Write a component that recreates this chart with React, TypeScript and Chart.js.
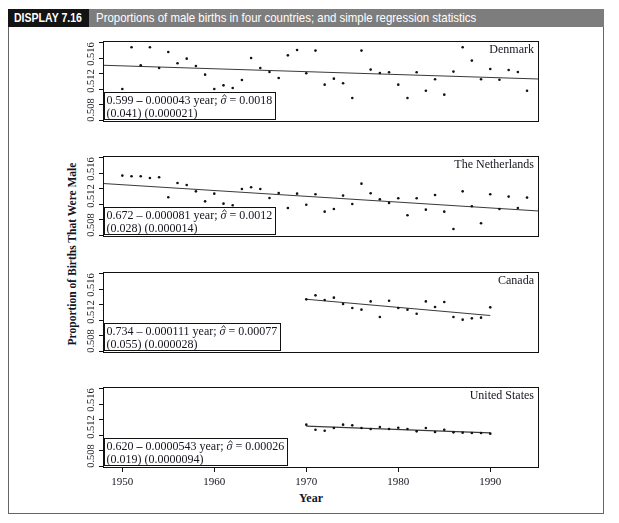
import React, { useEffect, useRef } from 'react';
import { Chart, registerables } from 'chart.js';

Chart.register(...registerables);

// ---------- data ----------
const YEARS_LONG = [
  1950, 1951, 1952, 1953, 1954, 1955, 1956, 1957, 1958, 1959,
  1960, 1961, 1962, 1963, 1964, 1965, 1966, 1967, 1968, 1969,
  1970, 1971, 1972, 1973, 1974, 1975, 1976, 1977, 1978, 1979,
  1980, 1981, 1982, 1983, 1984, 1985, 1986, 1987, 1988, 1989,
  1990, 1991, 1992, 1993, 1994,
];
const YEARS_SHORT = [
  1970, 1971, 1972, 1973, 1974, 1975, 1976, 1977, 1978, 1979,
  1980, 1981, 1982, 1983, 1984, 1985, 1986, 1987, 1988, 1989, 1990,
];

const DENMARK = [
  0.51200, 0.51738, 0.51505, 0.51738, 0.51471, 0.51678, 0.51531, 0.51591, 0.51497, 0.51385,
  0.51200, 0.51247, 0.51213, 0.51316, 0.51600, 0.51471, 0.51419, 0.51342, 0.51634, 0.51703,
  0.51402, 0.51695, 0.51256, 0.51333, 0.51273, 0.51084, 0.51695, 0.51450, 0.51407, 0.51415,
  0.51256, 0.51084, 0.51415, 0.51178, 0.51325, 0.51127, 0.51424, 0.51738, 0.51566, 0.51325,
  0.51458, 0.51320, 0.51445, 0.51419, 0.51178,
];
const NETHERLANDS = [
  0.51566, 0.51557, 0.51557, 0.51536, 0.51544, 0.51286, 0.51471, 0.51445, 0.51363, 0.51234,
  0.51333, 0.51204, 0.51183, 0.51394, 0.51415, 0.51394, 0.51277, 0.51342, 0.51148, 0.51333,
  0.51191, 0.51325, 0.51101, 0.51135, 0.51308, 0.51200, 0.51462, 0.51338, 0.51260, 0.51213,
  0.51273, 0.51054, 0.51273, 0.51127, 0.51316, 0.51101, 0.50877, 0.51363, 0.51170, 0.50951,
  0.51325, 0.51135, 0.51295, 0.51148, 0.51282,
];
const CANADA = [
  0.51466, 0.51518, 0.51458, 0.51488, 0.51406, 0.51354, 0.51333, 0.51440, 0.51238, 0.51449,
  0.51354, 0.51333, 0.51281, 0.51440, 0.51367, 0.51432, 0.51238, 0.51204, 0.51221, 0.51230,
  0.51363,
];
const USA = [
  0.51333, 0.51268, 0.51255, 0.51290, 0.51333, 0.51324, 0.51290, 0.51277, 0.51303, 0.51277,
  0.51294, 0.51277, 0.51247, 0.51290, 0.51238, 0.51268, 0.51234, 0.51230, 0.51225, 0.51225,
  0.51217,
];

const COUNTRY_NAMES = ['Denmark', 'The Netherlands', 'Canada', 'United States'];
const EQ_INTERCEPTS = ['0.599', '0.672', '0.734', '0.620'];
const EQ_SLOPES = ['0.000043', '0.000081', '0.000111', '0.0000543'];
const EQ_SIGMAS = ['0.0018', '0.0012', '0.00077', '0.00026'];
const EQ_SES = ['(0.041) (0.000021)', '(0.028) (0.000014)', '(0.055) (0.000028)', '(0.019) (0.0000094)'];
const EQ_BOLD_DASH = [true, false, false, true];

const Y_TICKS = [0.508, 0.51, 0.512, 0.514, 0.516, 0.518];
const Y_TICK_LABELS = ['0.508', '0.512', '0.516'];
const Y_LABEL_NUDGE = [-10, -8, -4];
const X_TICK_LABELS = ['1950', '1960', '1970', '1980', '1990'];

const X_MIN = 1947.9;
const X_MAX = 1995.3;
const Y_MIN = 0.50774;
const Y_MAX = 0.51819;

const SERIF = '"Liberation Serif", "Times New Roman", serif';
const SANS = '"Liberation Sans", Arial, sans-serif';
const INK = '#15151f';

// ---------- layout ----------
const PANEL_TOPS = [41, 156, 272, 387];
const PANEL_H = 81;
const CANVAS_LEFT = 60;
const CANVAS_W = 485;
const PAD_L = 43;
const PAD_R = 6;
const PAD_T = 4;

function leastSquares(xs: number[], ys: number[]) {
  const n = xs.length;
  let sx = 0, sy = 0;
  for (let i = 0; i < n; i++) { sx += xs[i]; sy += ys[i]; }
  const mx = sx / n, my = sy / n;
  let sxy = 0, sxx = 0;
  for (let i = 0; i < n; i++) {
    sxy += (xs[i] - mx) * (ys[i] - my);
    sxx += (xs[i] - mx) * (xs[i] - mx);
  }
  const b = sxy / sxx;
  return { a: my - b * mx, b };
}

type PanelProps = {
  idx: number;
  years: number[];
  values: number[];
  fullLine: boolean;
  bottom: boolean;
};

function Panel({ idx, years, values, fullLine, bottom }: PanelProps) {
  const ref = useRef<HTMLCanvasElement | null>(null);
  const padB = bottom ? 40 : 4;
  const height = PAD_T + PANEL_H + padB;

  useEffect(() => {
    if (!ref.current) return;
    const { a, b } = leastSquares(years, values);
    const x0 = fullLine ? X_MIN : years[0];
    const x1 = fullLine ? X_MAX : years[years.length - 1];
    const linePts = [
      { x: x0, y: a + b * x0 },
      { x: x1, y: a + b * x1 },
    ];
    const pts = years.map((yr, i) => ({ x: yr, y: values[i] }));

    const decor = {
      id: 'decor',
      afterDatasetsDraw(chart: any) {
        const ctx = chart.ctx;
        const { left, right, top, bottom: bot } = chart.chartArea;
        const xs = chart.scales.x;
        const ys = chart.scales.y;
        ctx.save();
        ctx.strokeStyle = '#111';
        ctx.lineWidth = 1;
        // frame
        ctx.strokeRect(Math.round(left) + 0.5, Math.round(top) + 0.5, Math.round(right - left) - 1, Math.round(bot - top) - 1);
        // y tick marks
        ctx.beginPath();
        Y_TICKS.forEach((v) => {
          const y = Math.round(ys.getPixelForValue(v)) + 0.5;
          ctx.moveTo(left - 4, y);
          ctx.lineTo(left, y);
        });
        ctx.stroke();
        // y tick labels (rotated)
        ctx.fillStyle = INK;
        ctx.font = `10.5px ${SERIF}`;
        ctx.textAlign = 'center';
        ctx.textBaseline = 'middle';
        Y_TICK_LABELS.forEach((lab, i) => {
          const y = ys.getPixelForValue(parseFloat(lab));
          ctx.save();
          ctx.translate(left - 12, y + Y_LABEL_NUDGE[i]);
          ctx.rotate(-Math.PI / 2);
          ctx.fillText(lab, 0, 0);
          ctx.restore();
        });
        // country label
        ctx.font = `12px ${SERIF}`;
        ctx.textAlign = 'right';
        ctx.textBaseline = 'alphabetic';
        ctx.fillText(COUNTRY_NAMES[idx], right - 5, top + 12);
        // regression box
        const fs = 12;
        const reg = `${fs}px ${SERIF}`;
        const boldF = `bold ${fs}px ${SERIF}`;
        const ital = `italic ${fs}px ${SERIF}`;
        const segs: [string, string][] = [
          [EQ_INTERCEPTS[idx] + ' ', reg],
          ['\u2013', EQ_BOLD_DASH[idx] ? boldF : reg],
          [' ' + EQ_SLOPES[idx] + ' year; ', reg],
          ['\u03C3', ital],
          [' = ' + EQ_SIGMAS[idx], reg],
        ];
        let w1 = 0;
        segs.forEach(([t, f]) => { ctx.font = f; w1 += ctx.measureText(t).width; });
        ctx.font = reg;
        const w2 = ctx.measureText(EQ_SES[idx]).width;
        const bw = Math.round(Math.max(w1, w2) + 5);
        const bh = 27;
        const bx = Math.round(left) + 1.5;
        const by = Math.round(bot) - 2.5 - bh;
        ctx.fillStyle = '#fff';
        ctx.fillRect(bx, by, bw, bh);
        ctx.strokeRect(bx, by, bw, bh);
        ctx.fillStyle = INK;
        ctx.textAlign = 'left';
        let cx = bx + 2;
        const base1 = by + 11.5;
        segs.forEach(([t, f]) => {
          ctx.font = f;
          const w = ctx.measureText(t).width;
          ctx.fillText(t, cx, base1);
          if (t === '\u03C3') {
            // hat over sigma
            ctx.save();
            ctx.strokeStyle = INK;
            ctx.lineWidth = 0.8;
            ctx.beginPath();
            ctx.moveTo(cx + 2, base1 - 7);
            ctx.lineTo(cx + w / 2 + 1, base1 - 9.5);
            ctx.lineTo(cx + w, base1 - 7);
            ctx.stroke();
            ctx.restore();
          }
          cx += w;
        });
        ctx.font = reg;
        ctx.fillText(EQ_SES[idx], bx + 2, by + 24);
        // x axis (bottom panel only)
        if (bottom) {
          ctx.beginPath();
          X_TICK_LABELS.forEach((lab) => {
            const x = Math.round(xs.getPixelForValue(parseFloat(lab))) + 0.5;
            ctx.moveTo(x, bot);
            ctx.lineTo(x, bot + 4);
          });
          ctx.stroke();
          ctx.font = `11px ${SERIF}`;
          ctx.textAlign = 'center';
          ctx.textBaseline = 'middle';
          X_TICK_LABELS.forEach((lab) => {
            ctx.fillText(lab, xs.getPixelForValue(parseFloat(lab)), bot + 14);
          });
        }
        ctx.restore();
      },
    };

    const chart = new Chart(ref.current, {
      type: 'scatter',
      data: {
        datasets: [
          {
            type: 'line',
            data: linePts,
            borderColor: '#3a3a3a',
            borderWidth: 1.1,
            pointRadius: 0,
            fill: false,
            order: 2,
          } as any,
          {
            type: 'scatter',
            data: pts,
            pointRadius: 1.3,
            pointStyle: 'circle',
            backgroundColor: '#111',
            borderColor: '#111',
            borderWidth: 0,
            order: 1,
          } as any,
        ],
      },
      options: {
        animation: false,
        responsive: false,
        devicePixelRatio: 1,
        layout: { padding: { left: PAD_L, right: PAD_R, top: PAD_T, bottom: padB } },
        plugins: { legend: { display: false }, tooltip: { enabled: false } },
        events: [],
        scales: {
          x: { type: 'linear', min: X_MIN, max: X_MAX, display: false },
          y: { type: 'linear', min: Y_MIN, max: Y_MAX, display: false },
        },
      } as any,
      plugins: [decor],
    });
    return () => chart.destroy();
  }, [idx, years, values, fullLine, bottom, padB]);

  return (
    <canvas
      ref={ref}
      width={CANVAS_W}
      height={height}
      style={{
        position: 'absolute',
        left: CANVAS_LEFT,
        top: PANEL_TOPS[idx] - PAD_T,
        width: CANVAS_W,
        height,
      }}
    />
  );
}

export default function App() {
  return (
    <div style={{ position: 'absolute', left: 0, top: 0, width: 619, height: 523, background: '#fff', overflow: 'hidden' }}>
      {/* header */}
      <div style={{ position: 'absolute', left: 8, top: 9, width: 81, height: 18, background: '#141414', overflow: 'hidden' }}>
        <span style={{ position: 'absolute', left: 6, top: 0, display: 'inline-block', color: '#fff', font: `bold 13px ${SANS}`, lineHeight: '18px', whiteSpace: 'nowrap', transform: 'scaleX(0.81)', transformOrigin: 'left center' }}>
          DISPLAY 7.16
        </span>
      </div>
      <div style={{ position: 'absolute', left: 89, top: 9, width: 515, height: 18, background: '#7d7d7d', overflow: 'hidden' }}>
        <span style={{ position: 'absolute', left: 7, top: 0, display: 'inline-block', color: '#fff', font: `13px ${SANS}`, lineHeight: '18px', whiteSpace: 'nowrap', transform: 'scaleX(0.88)', transformOrigin: 'left center' }}>
          Proportions of male births in four countries; and simple regression statistics
        </span>
      </div>
      {/* frame */}
      <div style={{ position: 'absolute', left: 8, top: 27, width: 596, height: 487, borderLeft: '1px solid #666', borderRight: '1px solid #666', borderBottom: '1px solid #666', boxSizing: 'border-box' }} />
      {/* y axis title */}
      <div style={{ position: 'absolute', left: 72, top: 254, width: 0, height: 0 }}>
        <div style={{ position: 'absolute', left: 0, top: 0, transform: 'translate(-50%, -50%) rotate(-90deg)', font: `bold 11.5px ${SERIF}`, color: INK, whiteSpace: 'nowrap' }}>
          Proportion of Births That Were Male
        </div>
      </div>
      {/* x axis title */}
      <div style={{ position: 'absolute', left: 311, top: 498, width: 0, height: 0 }}>
        <div style={{ position: 'absolute', left: 0, top: 0, transform: 'translate(-50%, -50%)', font: `bold 12px ${SERIF}`, color: INK, whiteSpace: 'nowrap' }}>
          Year
        </div>
      </div>
      <Panel idx={0} years={YEARS_LONG} values={DENMARK} fullLine={true} bottom={false} />
      <Panel idx={1} years={YEARS_LONG} values={NETHERLANDS} fullLine={true} bottom={false} />
      <Panel idx={2} years={YEARS_SHORT} values={CANADA} fullLine={false} bottom={false} />
      <Panel idx={3} years={YEARS_SHORT} values={USA} fullLine={false} bottom={true} />
    </div>
  );
}
